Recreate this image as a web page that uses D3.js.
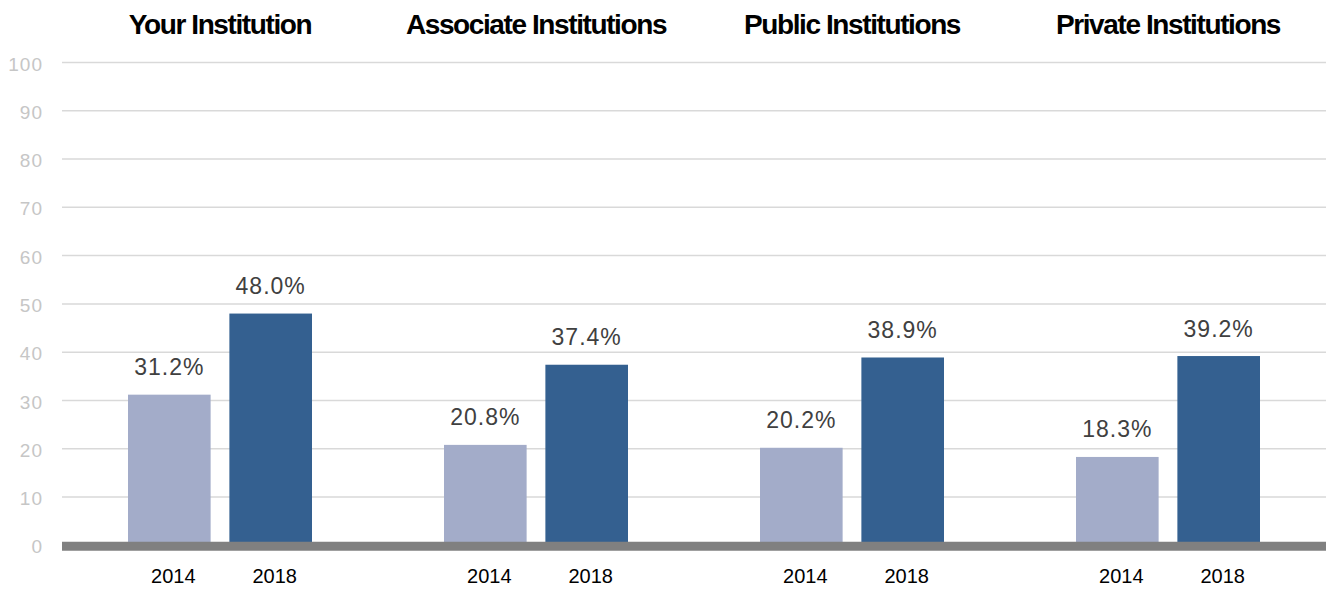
<!DOCTYPE html>
<html>
<head>
<meta charset="utf-8">
<script src="https://cdn.jsdelivr.net/npm/d3@7"></script>
<style>
  body { margin: 0; background: #fff; }
  text { font-family: "Liberation Sans", Arial, sans-serif; }
</style>
</head>
<body>
<div id="chart"></div>
<script>
// data
var groups = ["Your Institution", "Associate Institutions", "Public Institutions", "Private Institutions"];
var years = ["2014", "2018"];
var values2014 = [31.2, 20.8, 20.2, 18.3];
var values2018 = [48.0, 37.4, 38.9, 39.2];
var yTicks = [0, 10, 20, 30, 40, 50, 60, 70, 80, 90, 100];
var colors = ["#a3acc9", "#346090"];

var W = 1330, H = 591;
var margin = { top: 62.5, right: 4, bottom: 45.7, left: 62 },
    width = W - margin.left - margin.right,
    height = H - margin.top - margin.bottom;

var svg = d3.select("#chart")
    .append("svg")
    .attr("width", W)
    .attr("height", H)
    .append("g")
    .attr("transform", "translate(" + margin.left + "," + margin.top + ")");

var x0 = d3.scaleBand().domain(groups).range([0, width]);
var x1 = d3.scaleBand().domain(years).range([66, 250]).paddingInner(0.185);
var y = d3.scaleLinear().domain([0, 100]).range([height, 0]);

// gridlines
svg.append("g")
    .selectAll("line")
    .data(yTicks.filter(function (d) { return d > 0; }))
    .enter()
    .append("line")
    .attr("x1", 0)
    .attr("x2", width)
    .attr("y1", function (d) { return y(d) })
    .attr("y2", function (d) { return y(d) })
    .attr("stroke", "#d9d9d9")
    .attr("stroke-width", 1.5);

// y axis labels
var yAxis = svg.append("g")
    .call(d3.axisLeft(y).tickValues(yTicks).tickSize(0).tickPadding(19));
yAxis.select(".domain").remove();
yAxis.selectAll("text")
    .attr("fill", "#c6c6c6")
    .style("font-size", "19px")
    .style("letter-spacing", "1px")
    .attr("dy", "0.4em");

var rows = groups.map(function (g, i) {
    return { group: g, vals: [values2014[i], values2018[i]] };
});

var grp = svg.selectAll(".grp")
    .data(rows)
    .enter()
    .append("g")
    .attr("transform", function (d) { return "translate(" + x0(d.group) + ",0)" });

// bars
grp.selectAll("rect")
    .data(function (d) { return d.vals.map(function (v, j) { return { year: years[j], v: v, j: j }; }); })
    .enter()
    .append("rect")
    .attr("x", function (d) { return x1(d.year) })
    .attr("width", x1.bandwidth())
    .attr("y", function (d) { return y(d.v) })
    .attr("height", function (d) { return y(0) - y(d.v) })
    .attr("fill", function (d) { return colors[d.j] });

// value labels
grp.selectAll(".val")
    .data(function (d) { return d.vals.map(function (v, j) { return { year: years[j], v: v }; }); })
    .enter()
    .append("text")
    .attr("x", function (d) { return x1(d.year) + x1.bandwidth() / 2 })
    .attr("y", function (d) { return y(d.v) - 19.5 })
    .attr("text-anchor", "middle")
    .attr("fill", "#404040")
    .style("font-size", "23px")
    .style("letter-spacing", "1px")
    .text(function (d) { return d.v.toFixed(1) + "%" });

// year labels
grp.selectAll(".yr")
    .data(years)
    .enter()
    .append("text")
    .attr("x", function (d) { return x1(d) + x1.bandwidth() / 2 + 4 })
    .attr("y", height + 38)
    .attr("text-anchor", "middle")
    .attr("fill", "#000")
    .style("font-size", "20px")
    .text(function (d) { return d });

// group titles
grp.append("text")
    .attr("x", x0.bandwidth() / 2)
    .attr("y", 33.5 - margin.top)
    .attr("text-anchor", "middle")
    .attr("fill", "#000")
    .style("font-size", "28px")
    .style("font-weight", "bold")
    .style("letter-spacing", "-1.4px")
    .text(function (d) { return d.group });

// thick baseline
svg.append("line")
    .attr("x1", 0)
    .attr("x2", width)
    .attr("y1", y(0) + 1)
    .attr("y2", y(0) + 1)
    .attr("stroke", "#808080")
    .attr("stroke-width", 9);
</script>
</body>
</html>
